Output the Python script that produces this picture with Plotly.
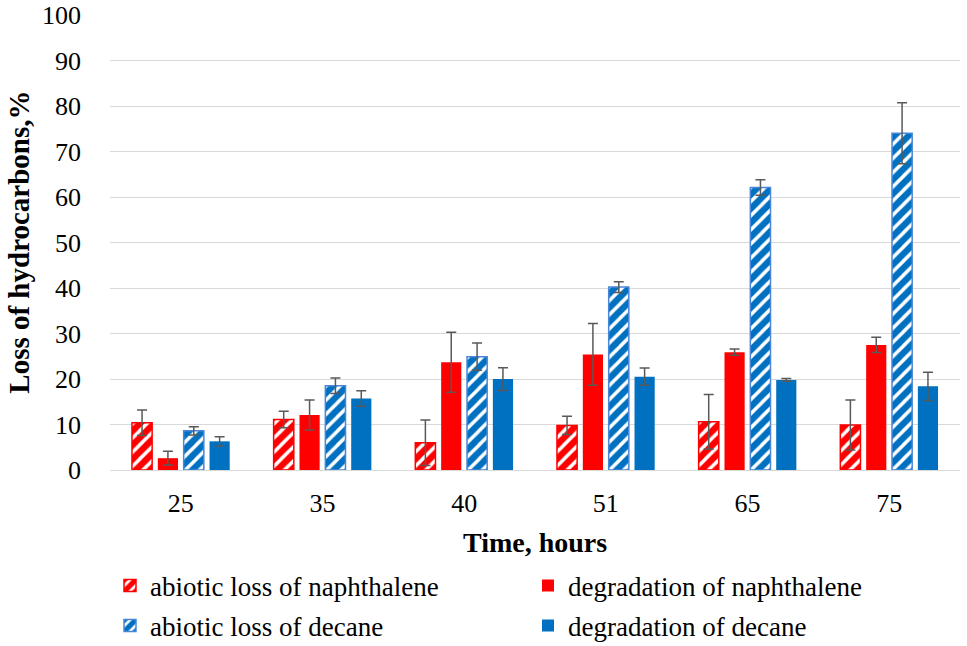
import plotly.graph_objects as go

categories = ["25", "35", "40", "51", "65", "75"]

abiotic_naph = [10.4, 11.1, 6.0, 9.8, 10.6, 9.9]
abiotic_naph_err = [2.8, 1.8, 5.0, 2.0, 6.0, 5.5]
degr_naph = [2.6, 12.1, 23.7, 25.4, 25.9, 27.5]
degr_naph_err = [1.5, 3.3, 6.6, 6.8, 0.7, 1.7]
abiotic_dec = [8.6, 18.5, 24.9, 40.2, 62.1, 74.0]
abiotic_dec_err = [0.9, 1.7, 3.0, 1.2, 1.7, 6.7]
degr_dec = [6.3, 15.7, 20.0, 20.5, 19.8, 18.4]
degr_dec_err = [1.0, 1.7, 2.5, 1.9, 0.3, 3.1]

series_names = [
    "abiotic loss of naphthalene",
    "degradation of naphthalene",
    "abiotic loss of decane",
    "degradation of decane",
]
x_title = "Time, hours"
y_title = "Loss of hydrocarbons,%"

RED = "#ff0000"
BLUE = "#0070c0"
ERR = "#595959"
FONT = "Liberation Serif, Times New Roman, serif"

fig = go.Figure()

def err(vals):
    return dict(type="data", array=vals, visible=True, color=ERR, thickness=1.5, width=5)

fig.add_trace(go.Bar(
    x=categories, y=abiotic_naph, name=series_names[0], error_y=err(abiotic_naph_err),
    legend="legend",
    marker=dict(color="white", line=dict(color=RED, width=1.5),
                pattern=dict(shape="/", fgcolor=RED, fgopacity=1, bgcolor="white", size=10, solidity=0.65)),
))
fig.add_trace(go.Bar(
    x=categories, y=degr_naph, name=series_names[1], error_y=err(degr_naph_err),
    legend="legend",
    marker=dict(color=RED, line=dict(color=RED, width=0)),
))
fig.add_trace(go.Bar(
    x=categories, y=abiotic_dec, name=series_names[2], error_y=err(abiotic_dec_err),
    legend="legend2",
    marker=dict(color="white", line=dict(color="#4a86d8", width=1.5),
                pattern=dict(shape="/", fgcolor=BLUE, fgopacity=1, bgcolor="white", size=10, solidity=0.65)),
))
fig.add_trace(go.Bar(
    x=categories, y=degr_dec, name=series_names[3], error_y=err(degr_dec_err),
    legend="legend2",
    marker=dict(color=BLUE, line=dict(color=BLUE, width=0)),
))

legend_common = dict(
    orientation="h", x=0.0, xanchor="left", yanchor="middle",
    entrywidth=373, entrywidthmode="pixels",
    font=dict(family=FONT, size=27, color="#000000"), itemwidth=30, tracegroupgap=0,
    bgcolor="rgba(0,0,0,0)",
)

fig.update_layout(
    width=967, height=646,
    margin=dict(l=110, r=7, t=15, b=176, autoexpand=False),
    paper_bgcolor="white", plot_bgcolor="white",
    barmode="group", bargap=0.27, bargroupgap=0.22,
    font=dict(family=FONT, size=20, color="#000000"),
    xaxis=dict(
        type="category", showgrid=False, ticks="", showline=True, linecolor="#d9d9d9", linewidth=1,
        tickfont=dict(family=FONT, size=26), automargin=False, ticklabelstandoff=10,
    ),
    yaxis=dict(
        range=[0, 100], dtick=10, showgrid=True, gridcolor="#d9d9d9", gridwidth=1,
        zeroline=False, showline=False, ticks="", automargin=False,
        tickfont=dict(family=FONT, size=26), ticklabelstandoff=28,
        ticklabeloverflow="allow",
    ),
    legend=dict(legend_common, y=-0.255),
    legend2=dict(legend_common, y=-0.343),
    annotations=[
        dict(text="<b>" + x_title + "</b>", xref="paper", yref="paper", x=0.5, y=-0.160,
             xanchor="center", yanchor="middle", showarrow=False,
             font=dict(family=FONT, size=28)),
        dict(text="<b>" + y_title + "</b>", xref="paper", yref="paper", x=-0.108, y=0.5,
             xanchor="center", yanchor="middle", showarrow=False, textangle=-90,
             font=dict(family=FONT, size=29)),
    ],
)

fig.write_html(
    "out.html",
    config={"displayModeBar": False},
    post_script="document.body.style.margin='0';document.body.style.overflow='hidden';",
)
